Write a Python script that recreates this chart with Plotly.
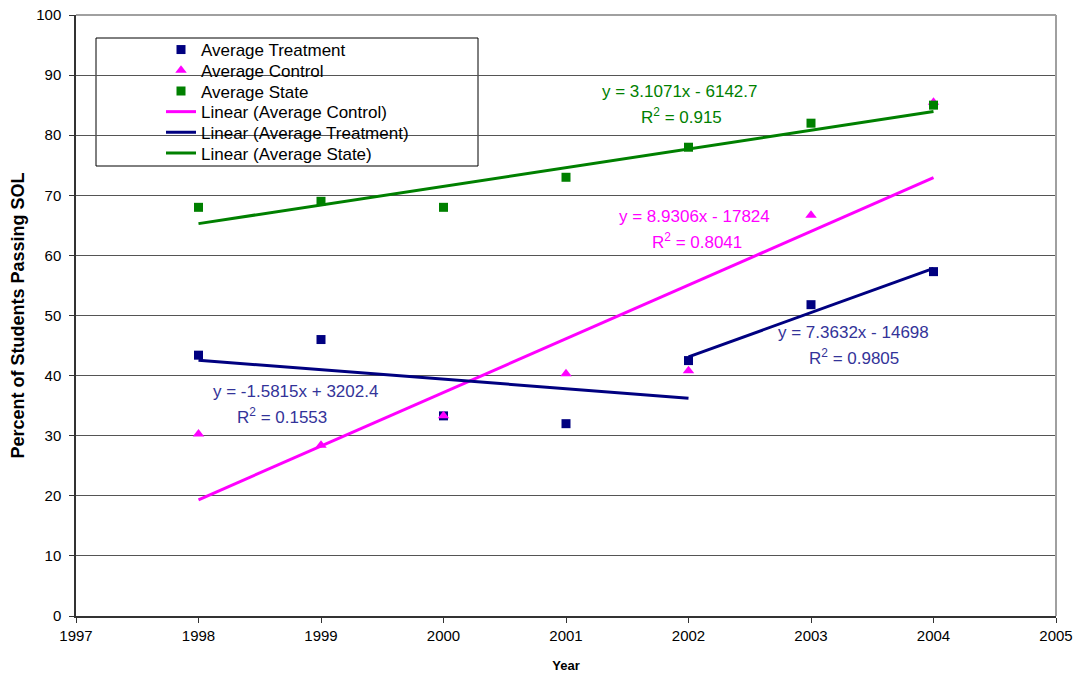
import plotly.graph_objects as go

years = [1998, 1999, 2000, 2001, 2002, 2003, 2004]
avg_treatment = [43.4, 46.0, 33.3, 32.0, 42.5, 51.8, 57.3]
avg_control = [30.3, 28.4, 33.3, 40.3, 40.8, 66.7, 85.5]
avg_state = [68.0, 69.0, 68.0, 73.0, 78.0, 82.0, 85.0]

# trendline coefficients (slope, intercept) and spans shown in chart
trend_control = (8.9306, -17824, [1998, 2004])
trend_treat1 = (-1.5815, 3202.4, [1998, 2002])
trend_treat2 = (7.3632, -14698, [2002, 2004])
trend_state = (3.1071, -6142.7, [1998, 2004])

x_ticks = list(range(1997, 2006))
y_ticks = list(range(0, 101, 10))

NAVY = "#000080"
MAG = "#FF00FF"
GRN = "#008000"
NAVY_TXT = "#333399"
FONT = "Liberation Sans, Arial, sans-serif"

FW, FH = 1080, 677
# plot area in page pixels
L, R, T, B = 76, 1056, 15, 616
PW, PH = R - L, B - T


def line_pts(coef):
    m, b, span = coef
    return span, [m * x + b for x in span]


def leg(i):
    return "legend" if i == 0 else f"legend{i + 1}"


fig = go.Figure()
fig.add_trace(go.Scatter(x=years, y=avg_treatment, mode="markers", name="Average Treatment",
                         legend=leg(0), marker=dict(symbol="square", size=9, color=NAVY)))
fig.add_trace(go.Scatter(x=years, y=avg_control, mode="markers", name="Average Control",
                         legend=leg(1), marker=dict(symbol="triangle-up", size=10, color=MAG)))
fig.add_trace(go.Scatter(x=years, y=avg_state, mode="markers", name="Average State",
                         legend=leg(2), marker=dict(symbol="square", size=9, color=GRN)))

xs, ys = line_pts(trend_control)
fig.add_trace(go.Scatter(x=xs, y=ys, mode="lines", name="Linear (Average Control)",
                         legend=leg(3), line=dict(color=MAG, width=3)))
xs, ys = line_pts(trend_treat1)
fig.add_trace(go.Scatter(x=xs, y=ys, mode="lines", name="Linear (Average Treatment)",
                         legend=leg(4), line=dict(color=NAVY, width=3), legendgroup="lt"))
xs, ys = line_pts(trend_treat2)
fig.add_trace(go.Scatter(x=xs, y=ys, mode="lines", name="Linear (Average Treatment)",
                         legend=leg(4), line=dict(color=NAVY, width=3), legendgroup="lt",
                         showlegend=False))
xs, ys = line_pts(trend_state)
fig.add_trace(go.Scatter(x=xs, y=ys, mode="lines", name="Linear (Average State)",
                         legend=leg(5), line=dict(color=GRN, width=3)))

ann = [
    ("y = 3.1071x - 6142.7", 2001.93, 87.2, GRN),
    ("R<sup>2</sup> = 0.915", 2001.94, 83.2, GRN),
    ("y = 8.9306x - 17824", 2002.05, 66.4, MAG),
    ("R<sup>2</sup> = 0.8041", 2002.07, 62.4, MAG),
    ("y = -1.5815x + 3202.4", 1998.79, 37.3, NAVY_TXT),
    ("R<sup>2</sup> = 0.1553", 1998.68, 33.3, NAVY_TXT),
    ("y = 7.3632x - 14698", 2003.35, 47.1, NAVY_TXT),
    ("R<sup>2</sup> = 0.9805", 2003.35, 43.1, NAVY_TXT),
]
for t, x, y, c in ann:
    fig.add_annotation(x=x, y=y, text=t, showarrow=False, xanchor="center", yanchor="middle",
                       font=dict(family=FONT, size=17, color=c))

shapes = [
    dict(type="rect", xref="paper", yref="paper", x0=(96 - L) / PW, x1=(478 - L) / PW,
         y0=(B - 166) / PH, y1=(B - 38) / PH, fillcolor="white",
         line=dict(color="black", width=1), layer="between"),
    dict(type="line", xref="paper", yref="paper", x0=0, x1=1, y0=1, y1=1,
         line=dict(color="#A0A0A0", width=2)),
    dict(type="line", xref="paper", yref="paper", x0=1, x1=1, y0=0, y1=1,
         line=dict(color="#A0A0A0", width=2)),
]

legends = {}
for i in range(6):
    top_px = 32 + 20.7 * i
    legends[leg(i)] = dict(x=(161 - L) / PW, y=(B - top_px) / PH, xanchor="left", yanchor="top",
                           bgcolor="rgba(0,0,0,0)", borderwidth=0,
                           font=dict(family=FONT, size=17, color="black"),
                           itemwidth=30)

fig.update_layout(
    width=FW, height=FH,
    margin=dict(l=L, r=FW - R, t=T, b=FH - B, autoexpand=False),
    paper_bgcolor="white", plot_bgcolor="white",
    font=dict(family=FONT, size=16, color="black"),
    showlegend=True,
    shapes=shapes,
    xaxis=dict(range=[1997, 2005], tickvals=x_ticks, ticktext=[str(v) for v in x_ticks],
               showgrid=False, zeroline=False, showline=True, linecolor="#333333", linewidth=1.5,
               ticks="outside", ticklen=5, tickcolor="#333333", automargin=False,
               ticklabeloverflow="allow",
               tickfont=dict(family=FONT, size=15),
               title=dict(text="<b>Year</b>", font=dict(family=FONT, size=13), standoff=18)),
    yaxis=dict(range=[0, 100], tickvals=y_ticks, showgrid=True, gridcolor="#555555", gridwidth=1,
               zeroline=False, showline=True, linecolor="#333333", linewidth=1.5,
               ticks="outside", ticklen=5, tickcolor="#333333", automargin=False,
               ticklabelstandoff=5, ticklabeloverflow="allow",
               tickfont=dict(family=FONT, size=15),
               title=dict(text="<b>Percent of Students Passing SOL</b>", font=dict(family=FONT, size=18),
                          standoff=7)),
    **legends,
)

fig.write_html("out.html", config={"displayModeBar": False},
               post_script="document.body.style.margin='0';document.body.style.overflow='hidden';")
